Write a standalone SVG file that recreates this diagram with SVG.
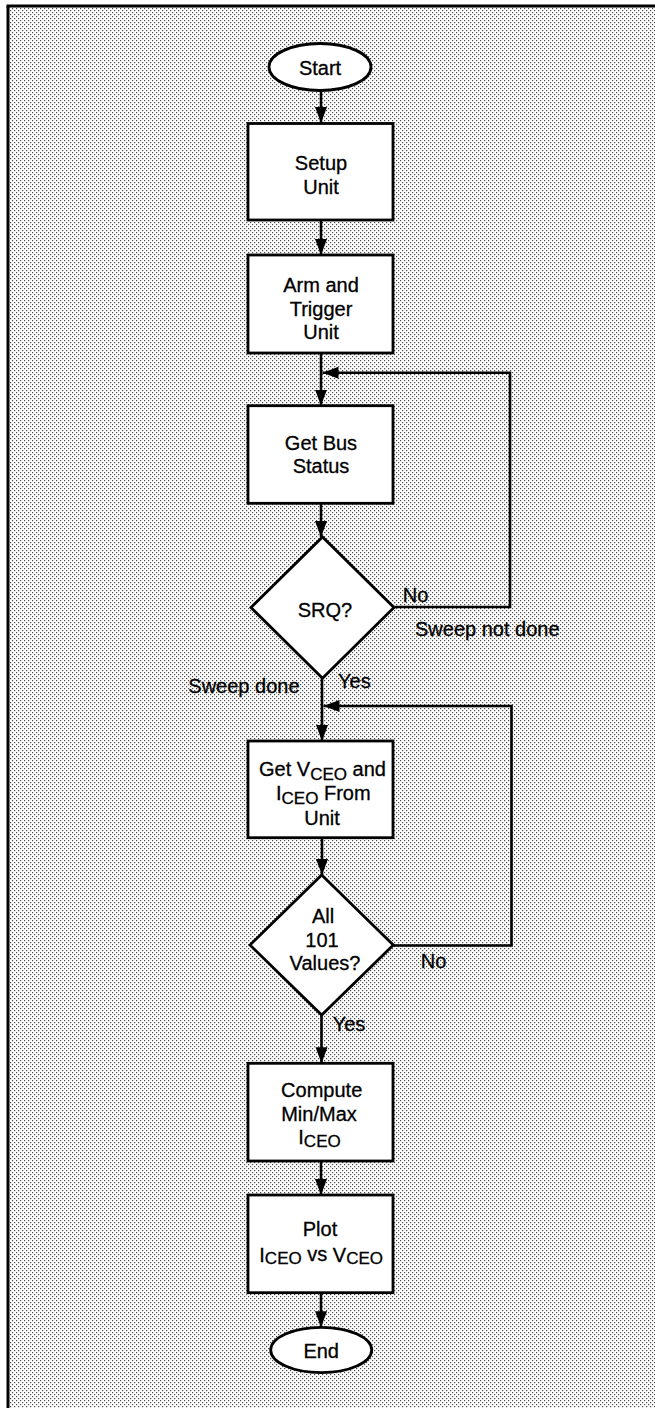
<svg xmlns="http://www.w3.org/2000/svg" width="655" height="1408" viewBox="0 0 655 1408">
  <style>
    .box { fill: #ffffff; stroke: #000000; stroke-width: 2.8; }
    .conn { fill: none; stroke: #000000; stroke-width: 2.6; }
    .t { font-family: "Liberation Sans", Arial, sans-serif; font-size: 20px; fill: #000000; stroke: #000000; stroke-width: 0.3; }
    .c { text-anchor: middle; }
    .sub { font-size: 17px; }
  </style>
  <defs>
    <pattern id="dots" x="0" y="0" width="4" height="4" patternUnits="userSpaceOnUse">
      <rect x="0" y="0" width="4" height="4" fill="#ffffff"/>
      <rect x="0" y="0" width="1.2" height="1.2" fill="#4a4a4a"/>
      <rect x="2" y="2" width="1.2" height="1.2" fill="#4a4a4a"/>
    </pattern>
    <marker id="arrow" markerUnits="userSpaceOnUse" markerWidth="17" markerHeight="13" viewBox="0 0 17 13" refX="16" refY="6.5" orient="auto">
      <path d="M0,0.5 L16,6.5 L0,12.5 z" fill="#000000"/>
    </marker>
  </defs>

  <rect x="0" y="0" width="655" height="1408" fill="#ffffff"/>
  <rect x="8" y="6" width="647" height="1402" fill="url(#dots)"/>
  <g id="frame">
    <line x1="8" y1="6" x2="8" y2="1408" stroke="#000000" stroke-width="3"/>
    <line x1="6.5" y1="6" x2="655" y2="6" stroke="#000000" stroke-width="3"/>
  </g>

  <g id="connectors">
    <line class="conn" x1="321" y1="90.5" x2="321" y2="123" marker-end="url(#arrow)"/>
    <line class="conn" x1="321" y1="220" x2="321" y2="255" marker-end="url(#arrow)"/>
    <line class="conn" x1="321" y1="353" x2="321" y2="405.5" marker-end="url(#arrow)"/>
    <polyline class="conn" points="394,607 510,607 510,372.7 322.5,372.7" marker-end="url(#arrow)"/>
    <line class="conn" x1="321" y1="503.3" x2="321" y2="537" marker-end="url(#arrow)"/>
    <line class="conn" x1="322" y1="678" x2="322" y2="741" marker-end="url(#arrow)"/>
    <polyline class="conn" points="393.3,945.5 511.5,945.5 511.5,706 323.5,706" marker-end="url(#arrow)"/>
    <line class="conn" x1="322" y1="837.7" x2="322" y2="875" marker-end="url(#arrow)"/>
    <line class="conn" x1="321.5" y1="1015" x2="321.5" y2="1063.3" marker-end="url(#arrow)"/>
    <line class="conn" x1="321" y1="1161" x2="321" y2="1195" marker-end="url(#arrow)"/>
    <line class="conn" x1="321" y1="1292.7" x2="321" y2="1327.3" marker-end="url(#arrow)"/>
  </g>

  <g id="start">
    <ellipse class="box" cx="320" cy="67" rx="51" ry="23.5"/>
    <text class="t c" x="320" y="75">Start</text>
  </g>

  <g id="setup">
    <rect class="box" x="248" y="123.5" width="145" height="96.5"/>
    <text class="t c" x="321" y="170">Setup</text>
    <text class="t c" x="321" y="193.5">Unit</text>
  </g>

  <g id="arm">
    <rect class="box" x="248" y="255" width="145" height="98"/>
    <text class="t c" x="321" y="292.3">Arm and</text>
    <text class="t c" x="321" y="315.7">Trigger</text>
    <text class="t c" x="321" y="339.3">Unit</text>
  </g>

  <g id="getbus">
    <rect class="box" x="248" y="405.7" width="145" height="97.6"/>
    <text class="t c" x="321" y="450">Get Bus</text>
    <text class="t c" x="321" y="473.3">Status</text>
  </g>

  <g id="srq">
    <polygon class="box" points="322.5,537 394,607.5 322.5,678.3 251,607.5"/>
    <text class="t c" x="325" y="617">SRQ?</text>
  </g>

  <g id="labels1">
    <text class="t" x="402.7" y="601.7">No</text>
    <text class="t" x="415" y="635.7">Sweep not done</text>
    <text class="t" x="188.3" y="693.3">Sweep done</text>
    <text class="t" x="338" y="687.7">Yes</text>
  </g>

  <g id="getv">
    <rect class="box" x="248" y="741" width="145" height="96.7"/>
    <text class="t" x="259" y="775.5">Get V<tspan class="sub" dy="4.5">CEO</tspan><tspan dy="-4.5"> and</tspan></text>
    <text class="t" x="276" y="800">I<tspan class="sub" dy="3.5">CEO</tspan><tspan dy="-3.5"> From</tspan></text>
    <text class="t c" x="322" y="825">Unit</text>
  </g>

  <g id="all101">
    <polygon class="box" points="321.7,875 393.3,945 321.7,1015 250,945"/>
    <text class="t c" x="323" y="923.3">All</text>
    <text class="t c" x="322" y="946.7">101</text>
    <text class="t c" x="325" y="970">Values?</text>
  </g>

  <g id="labels2">
    <text class="t" x="420.7" y="968.3">No</text>
    <text class="t" x="332.7" y="1030.5">Yes</text>
  </g>

  <g id="compute">
    <rect class="box" x="248" y="1063.3" width="145" height="97.7"/>
    <text class="t c" x="321.7" y="1096.7">Compute</text>
    <text class="t c" x="319" y="1120.7">Min/Max</text>
    <text class="t" x="298.3" y="1144">I<tspan class="sub" dy="2.5">CEO</tspan></text>
  </g>

  <g id="plot">
    <rect class="box" x="248" y="1195" width="145" height="97.7"/>
    <text class="t c" x="320" y="1235.8">Plot</text>
    <text class="t" x="259.3" y="1261.5">I<tspan class="sub" dy="2.5">CEO</tspan><tspan dy="-3.5"> vs </tspan><tspan dy="1">V</tspan><tspan class="sub" dy="2.5">CEO</tspan></text>
  </g>

  <g id="end">
    <ellipse class="box" cx="321.2" cy="1350" rx="50.5" ry="22.7"/>
    <text class="t c" x="321.2" y="1357.5">End</text>
  </g>
</svg>
